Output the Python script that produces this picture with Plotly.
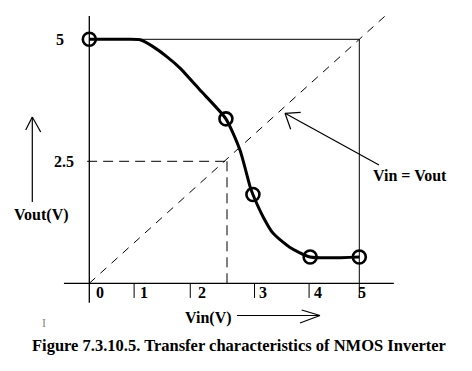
import plotly.graph_objects as go

# ---- data ----
vin = [0.0, 0.68, 0.94, 1.18, 1.44, 1.68, 2.05, 2.53, 2.79, 2.98, 3.03, 3.22, 3.40, 3.71, 4.09, 5.0]
vout = [5.0, 5.0, 4.99, 4.85, 4.64, 4.41, 3.96, 3.37, 2.73, 1.97, 1.82, 1.36, 1.03, 0.74, 0.54, 0.54]
marker_vin = [0.0, 2.53, 3.03, 4.09, 5.0]
marker_vout = [5.0, 3.37, 1.82, 0.54, 0.54]
x_tick_vals = [0.0, 0.83, 1.87, 3.06, 4.07, 5.0]
x_tick_text = ["0", "1", "2", "3", "4", "5"]
y_tick_vals = [5.0, 2.5]
y_tick_text = ["5", "2.5"]
v_switch = 2.55   # where Vin = Vout meets the curve (dashed guide)
v_max = 5.0

# ---- pixel <-> data mapping of the original drawing ----
W, H = 472, 371
OX, OY = 89.3, 283.3      # pixel position of origin
SX, SY = 54.0, 48.8       # pixels per volt
XR = [(0 - OX) / SX, (W - OX) / SX]
YR = [(OY - H) / SY, OY / SY]


def px(x, y):
    return (x - OX) / SX, (OY - y) / SY


FONT = "Liberation Serif"
shapes = []


def seg(p, q, width=1.2, dash=None, ref="px"):
    if ref == "px":
        p, q = px(*p), px(*q)
    line = dict(color="black", width=width)
    if dash:
        line["dash"] = dash
    shapes.append(dict(type="line", xref="x", yref="y", x0=p[0], y0=p[1], x1=q[0], y1=q[1], line=line))


# axes
seg((-0.47, 0), (5.64, 0), 1.3, ref="data")
seg((0, -0.4), (0, 5.48), 1.3, ref="data")
# box
seg((0, v_max), (v_max, v_max), 1.0, ref="data")
seg((v_max, 0), (v_max, v_max), 1.0, ref="data")
# dashed guides
seg((-0.04, 2.5), (2.6, 2.5), 1.0, dash="10px,6px", ref="data")
seg((v_switch, 0), (v_switch, 2.5), 1.0, dash="10px,6px", ref="data")
seg((0, 0), (5.47, 5.47), 1.0, dash="8px,7px", ref="data")
# x ticks
for tv in x_tick_vals[1:]:
    seg((tv, 0), (tv, -0.3), 1.0, ref="data")

# arrows (open heads)
seg((32.3, 117), (32.3, 202))
seg((32.3, 117), (25.7, 130))
seg((32.3, 117), (40.7, 132))
seg((237, 315.5), (320, 315.5))
seg((320, 315.5), (301.7, 310))
seg((320, 315.5), (300, 323))
seg((379, 165), (285, 113.3))
seg((285, 113.3), (300.7, 112.3))
seg((285, 113.3), (290.7, 129.3))

fig = go.Figure()
fig.add_trace(go.Scatter(x=vin, y=vout, mode="lines", line=dict(color="black", width=3, shape="spline", smoothing=0.6),
                         hoverinfo="skip", showlegend=False))
fig.add_trace(go.Scatter(x=marker_vin, y=marker_vout, mode="markers",
                         marker=dict(symbol="circle-open", size=13, color="black", line=dict(width=2.6)),
                         showlegend=False))

annotations = []
label_shift = [11, 9.4, 12, 8.5, 8.7, 2.4]
for tv, tt, sh in zip(x_tick_vals, x_tick_text, label_shift):
    annotations.append(dict(x=tv, y=0, text="<b>%s</b>" % tt, showarrow=False, xshift=sh, yshift=-9,
                            font=dict(family=FONT, size=16, color="black")))
y_lab_x = [60, 64]
for tv, tt, lx in zip(y_tick_vals, y_tick_text, y_lab_x):
    annotations.append(dict(x=px(lx, 0)[0], y=tv, text="<b>%s</b>" % tt, showarrow=False,
                            font=dict(family=FONT, size=16, color="black")))


def label(x, y, text, size=16, color="black"):
    X, Y = px(x, y)
    annotations.append(dict(x=X, y=Y, text=text, showarrow=False, font=dict(family=FONT, size=size, color=color)))


label(41.7, 215, "<b>Vout(V)</b>")
label(208, 318, "<b>Vin(V)</b>")
label(410, 175, "<b>Vin = Vout</b>")
label(238.5, 345, "<b>Figure 7.3.10.5. Transfer characteristics of NMOS Inverter</b>", size=16.5)
label(43.5, 323, "I", size=12, color="#888888")

fig.update_layout(
    width=W, height=H, margin=dict(l=0, r=0, t=0, b=0),
    paper_bgcolor="white", plot_bgcolor="white",
    xaxis=dict(range=XR, visible=False, fixedrange=True),
    yaxis=dict(range=YR, visible=False, fixedrange=True),
    shapes=shapes, annotations=annotations, showlegend=False,
)
fig.write_html("out.html", config={"displayModeBar": False},
               post_script="document.body.style.margin='0px';")
